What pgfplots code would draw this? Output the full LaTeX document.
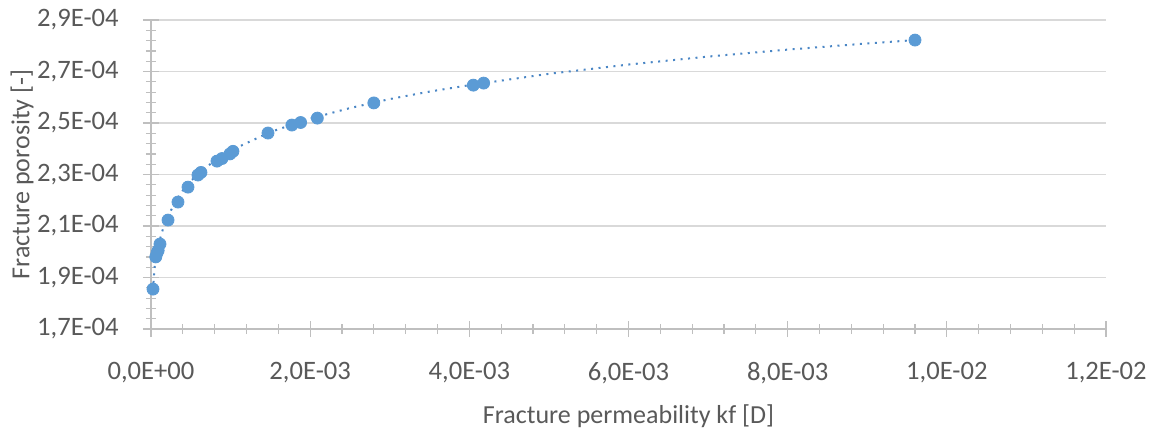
\documentclass[border=0pt]{standalone}
\usepackage{pgfplots}
\pgfplotsset{compat=1.18}
\usepackage{fontspec}
\setmainfont{Carlito}
\definecolor{txt}{HTML}{595959}
\definecolor{grd}{HTML}{D9D9D9}
\definecolor{axg}{HTML}{BFBFBF}
\definecolor{ptc}{HTML}{5B9BD5}
\definecolor{trc}{HTML}{4A86C5}
\begin{document}
\fontsize{13pt}{15pt}\selectfont
\begin{tikzpicture}
\useasboundingbox (-75.5pt,-50.5pt) rectangle (501.5pt,164.5pt);
\begin{axis}[
  at={(0,0)}, anchor=south west,
  scale only axis, width=477.5pt, height=154.5pt,
  xmin=0, xmax=0.012, ymin=1.7e-4, ymax=2.9e-4,
  axis lines*=left,
  axis line style={draw=axg, line width=0.6pt, -},
  xtick={0,0.002,0.004,0.006,0.008,0.01,0.012},
  xticklabels={{0,0E+00},{2,0E-03},{4,0E-03},{6,0E-03},{8,0E-03},{1,0E-02},{1,2E-02}},
  ytick={1.7e-4,1.9e-4,2.1e-4,2.3e-4,2.5e-4,2.7e-4,2.9e-4},
  yticklabels={{1,7E-04},{1,9E-04},{2,1E-04},{2,3E-04},{2,5E-04},{2,7E-04},{2,9E-04}},
  scaled ticks=false,
  minor tick num=4,
  tick align=center,
  major tick length=8pt, minor tick length=5pt,
  every tick/.style={draw=axg, line width=0.6pt},
  ymajorgrids, xmajorgrids=false,
  major grid style={draw=grd, line width=0.6pt},
  yticklabel style={anchor=east, inner sep=0pt, xshift=-12pt, text=txt, font=\fontsize{13.3pt}{15pt}\selectfont},
  xticklabel style={anchor=north, inner sep=0pt, yshift=-12.5pt, text=txt, font=\fontsize{13.3pt}{15pt}\selectfont},
  every axis x label/.style={at={(axis description cs:0.5,0)}, yshift=-43.5pt, anchor=center, text=txt, font=\fontsize{13pt}{15pt}\selectfont},
  every axis y label/.style={at={(axis description cs:0,0.5)}, xshift=-64.5pt, rotate=90, anchor=center, text=txt, font=\fontsize{13pt}{15pt}\selectfont},
  xlabel={Fracture permeability kf [D]},
  ylabel={Fracture porosity [-]},
  clip=false,
]
% trendline
\addplot[trc, line width=1pt, dash pattern=on 1pt off 2.75pt] coordinates {
(0.000025,1.850e-4) (0.000035,1.900e-4) (0.00005,1.955e-4) (0.00007,1.995e-4) (0.0001,2.035e-4)
(0.00015,2.088e-4) (0.0002,2.128e-4) (0.0003,2.191e-4)
(0.0004,2.238e-4) (0.0005,2.275e-4) (0.0007,2.331e-4) (0.001,2.393e-4) (0.0015,2.465e-4)
(0.002,2.517e-4) (0.0025,2.558e-4) (0.003,2.593e-4) (0.0035,2.622e-4) (0.004,2.647e-4) (0.005,2.691e-4)
(0.006,2.727e-4) (0.007,2.758e-4) (0.008,2.785e-4) (0.009,2.809e-4)
(0.0096,2.822e-4)
};
% data
\addplot[only marks, mark=*, mark size=3pt, mark options={draw=ptc, fill=ptc}] coordinates {
(0.000025,1.855e-4) (0.00006,1.980e-4) (0.000075,1.995e-4) (0.00009,2.005e-4)
(0.000113,2.030e-4) (0.000214,2.123e-4) (0.000339,2.193e-4) (0.000465,2.251e-4)
(0.00059,2.298e-4) (0.000628,2.308e-4) (0.000829,2.352e-4) (0.000892,2.362e-4)
(0.000992,2.380e-4) (0.00103,2.390e-4) (0.00147,2.461e-4) (0.00177,2.492e-4)
(0.00188,2.502e-4) (0.00209,2.519e-4) (0.0028,2.578e-4) (0.00405,2.647e-4)
(0.00418,2.655e-4) (0.0096,2.822e-4)
};
\end{axis}
\end{tikzpicture}
\end{document}
